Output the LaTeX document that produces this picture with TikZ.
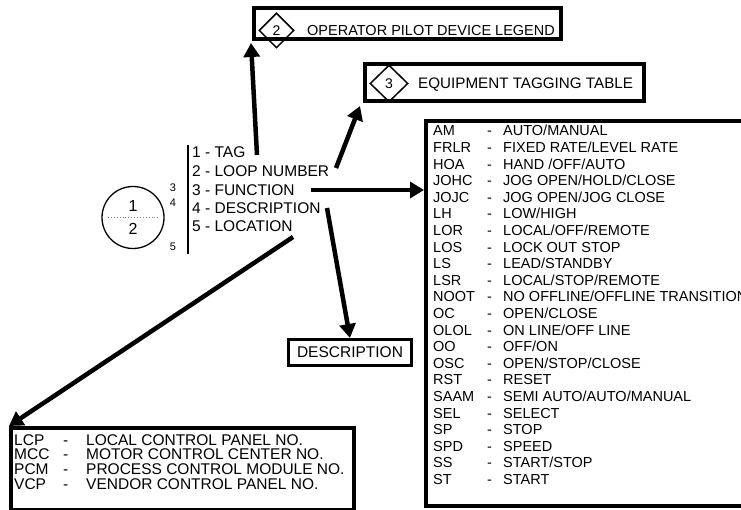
\documentclass[tikz,border=0pt]{standalone}
\usepackage{fontspec}
\setmainfont{Liberation Sans}
\usetikzlibrary{arrows.meta,shapes.geometric}
\begin{document}
\begin{tikzpicture}[x=1pt,y=-1pt,
  arr/.style={line width=4.5pt,-{Triangle[length=14pt,width=16pt]}},
  thickbox/.style={draw,line width=4pt,inner sep=0pt},
  tagdia/.style={draw,diamond,line width=1.5pt,inner sep=0pt,font=\fontsize{14}{14}\selectfont},
  lbl/.style={anchor=base west,inner sep=0pt},
  listtxt/.style={lbl,font=\fontsize{15.5}{15.5}\selectfont},
  smallnum/.style={anchor=base,inner sep=0pt,font=\fontsize{11}{11}\selectfont},
  bignum/.style={anchor=base,inner sep=0pt,font=\fontsize{16}{16}\selectfont},
]
\fill[white] (0,0) rectangle (741,510);
\useasboundingbox (0,0) rectangle (741,510);

% box 2
\node[thickbox,minimum width=307pt,minimum height=31pt] (b2) at (407.5,23.5) {};
\node[tagdia,minimum width=35pt,minimum height=35pt] (d2) at (276.5,30.5) {2};
\node[lbl,font=\fontsize{14.5}{16}\selectfont] (t2) at (307,36) {OPERATOR PILOT DEVICE LEGEND};

% box 3
\node[thickbox,minimum width=279pt,minimum height=37pt] (b3) at (504.5,82.5) {};
\node[tagdia,minimum width=38pt,minimum height=37pt] (d3) at (389,83.5) {3};
\node[lbl,font=\fontsize{15.2}{16}\selectfont] (t3) at (418,89) {EQUIPMENT TAGGING TABLE};

% tag circle
\node[draw,circle,line width=1.3pt,minimum size=62pt,inner sep=0pt] (circ) at (133,217.5) {};
\draw[dotted,line width=0.9pt,gray] ([xshift=-25pt]circ.center) -- ([xshift=25pt]circ.center);
\node[bignum] (n1) at (133,212) {1};
\node[bignum] (n2) at (133,235) {2};
\node[smallnum] (k3) at (173,192) {3};
\node[smallnum] (k4) at (173,207) {4};
\node[smallnum] (k5) at (173,251) {5};

% bracket bar
\coordinate (bt) at (188,145);
\coordinate (bb) at (188,254);
\draw[line width=2pt] (bt) -- (bb);

% list
\node[listtxt] (l1) at (192,158) {1 - TAG};
\node[listtxt] (l2) at (192,177) {2 - LOOP NUMBER};
\node[listtxt] (l3) at (192,196) {3 - FUNCTION};
\node[listtxt] (l4) at (192,214) {4 - DESCRIPTION};
\node[listtxt] (l5) at (192,232) {5 - LOCATION};

% function table
\node[thickbox,anchor=north west,minimum width=360pt,minimum height=385pt] (tbl) at (424,119) {};
\node[lbl,font=\fontsize{14.5}{16.6}\selectfont] (tbltxt) at (433,136) {%
\begin{tabular}[t]{@{}p{54pt}@{}p{16pt}@{}l@{}}
AM & - & AUTO/MANUAL\\
FRLR & - & FIXED RATE/LEVEL RATE\\
HOA & - & HAND /OFF/AUTO\\
JOHC & - & JOG OPEN/HOLD/CLOSE\\
JOJC & - & JOG OPEN/JOG CLOSE\\
LH & - & LOW/HIGH\\
LOR & - & LOCAL/OFF/REMOTE\\
LOS & - & LOCK OUT STOP\\
LS & - & LEAD/STANDBY\\
LSR & - & LOCAL/STOP/REMOTE\\
NOOT & - & NO OFFLINE/OFFLINE TRANSITION\\
OC & - & OPEN/CLOSE\\
OLOL & - & ON LINE/OFF LINE\\
OO & - & OFF/ON\\
OSC & - & OPEN/STOP/CLOSE\\
RST & - & RESET\\
SAAM & - & SEMI AUTO/AUTO/MANUAL\\
SEL & - & SELECT\\
SP & - & STOP\\
SPD & - & SPEED\\
SS & - & START/STOP\\
ST & - & START
\end{tabular}};

% description box
\node[draw,line width=3pt,minimum width=123pt,minimum height=26pt,inner sep=0pt,font=\fontsize{15.5}{16}\selectfont] (desc) at (350,352.5) {DESCRIPTION};

% location box
\node[thickbox,anchor=north west,minimum width=343pt,minimum height=82pt] (loc) at (9,426) {};
\node[lbl,font=\fontsize{15.5}{13.7}\selectfont] (loctxt) at (14,445) {%
\begin{tabular}[t]{@{}p{49pt}@{}p{23pt}@{}l@{}}
LCP & - & LOCAL CONTROL PANEL NO.\\
MCC & - & MOTOR CONTROL CENTER NO.\\
PCM & - & PROCESS CONTROL MODULE NO.\\
VCP & - & VENDOR CONTROL PANEL NO.
\end{tabular}};

% arrows
\coordinate (s1) at (257,155);
\coordinate (s2) at (336,168);
\coordinate (s3) at (311,190);
\coordinate (s4) at (327,208);
\coordinate (s5) at (293,237);
\draw[arr] (s1) -- ([shift={(-1,2)}]b2.south west);
\draw[arr] (s2) -- ([shift={(-3,3)}]b3.south west);
\draw[arr] (s3) -- (s3 -| tbl.west);
\draw[arr] (s4) -- (desc.north);
\draw[arr] (s5) -- (loc.north west);
\end{tikzpicture}
\end{document}
